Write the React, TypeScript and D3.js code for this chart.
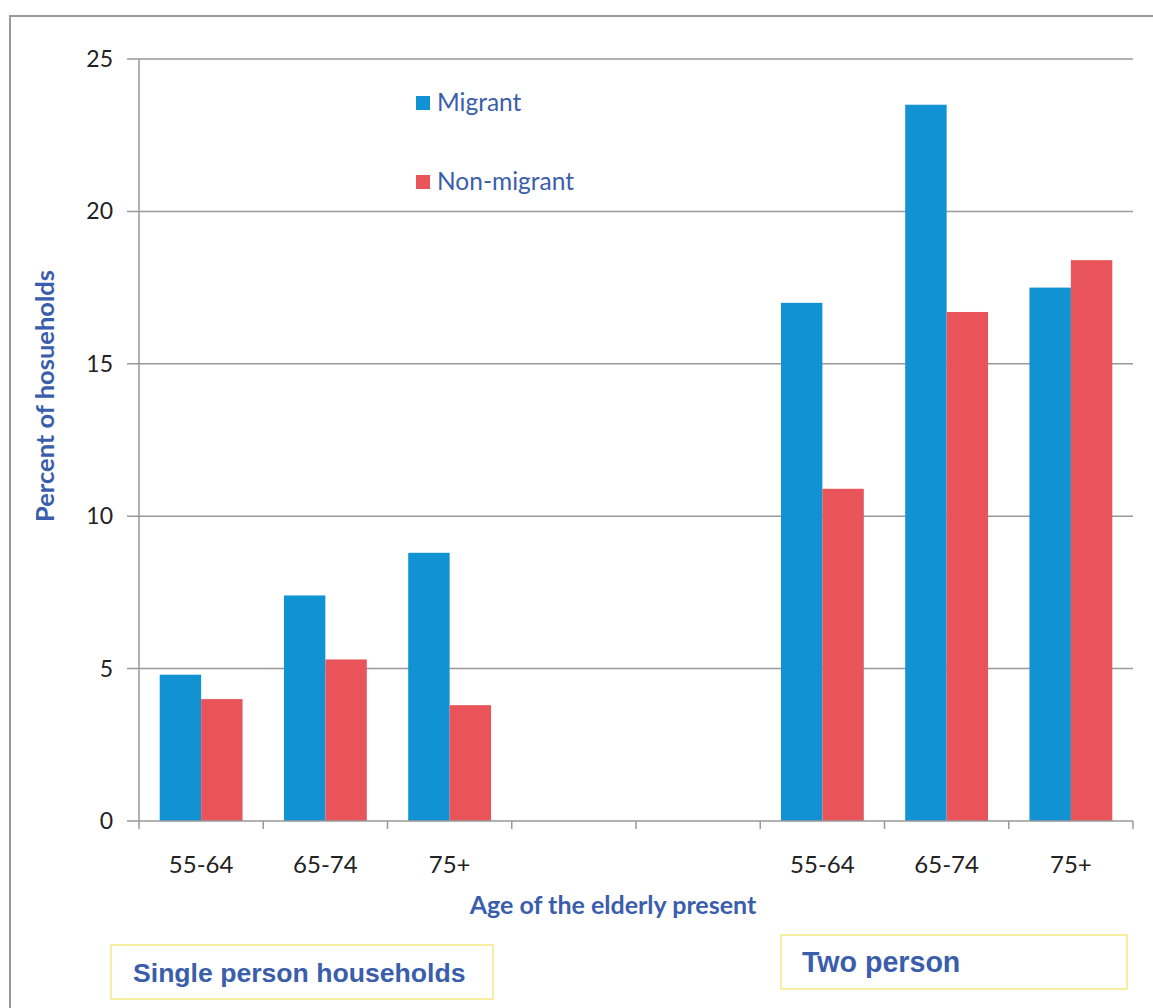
import React from "react";
import * as d3 from "d3";

const categories = ["55-64", "65-74", "75+", "", "", "55-64", "65-74", "75+"];
const migrant = [4.8, 7.4, 8.8, null, null, 17.0, 23.5, 17.5];
const nonMigrant = [4.0, 5.3, 3.8, null, null, 10.9, 16.7, 18.4];
const yTicks = [0, 5, 10, 15, 20, 25];
const seriesNames = ["Migrant", "Non-migrant"];
const seriesColors = ["#1192d2", "#e8545a"];

const W = 1153;
const H = 1008;
const left = 139;
const right = 1133;
const top = 59;
const bottom = 821;
const textBlue = "#3a5eab";
const calibri = "Lato, 'Open Sans', sans-serif";
const arial = "'Liberation Sans', Arial, sans-serif";

export default function App() {
  const keys = categories.map((_, i) => String(i));
  const x = d3.scaleBand<string>().domain(keys).range([left, right]).paddingInner(0).paddingOuter(0);
  const inner = d3.scaleBand<string>().domain(seriesNames).range([0, x.bandwidth()]).paddingInner(0).paddingOuter(0.5);
  const y = d3.scaleLinear().domain([0, 25]).range([bottom, top]);
  const series = [migrant, nonMigrant];
  const tickXs = keys.map((k) => x(k) as number).concat([right]);

  return (
    <svg width={W} height={H} style={{ position: "absolute", left: 0, top: 0, background: "#fff" }}>
      <rect x={10} y={16} width={1150} height={1100} fill="none" stroke="#999" strokeWidth={2} />
      {yTicks.map((t) => (
        <g key={t}>
          <line x1={127} x2={t === 0 ? left : right} y1={y(t)} y2={y(t)} stroke="#999" strokeWidth={1.5} />
          <text x={113} y={y(t) + 8} textAnchor="end" fontFamily={calibri} fontSize={23} fill="#222">{t}</text>
        </g>
      ))}
      <line x1={left} x2={left} y1={top} y2={bottom} stroke="#999" strokeWidth={1.5} />
      {series.map((vals, si) =>
        vals.map((v, i) =>
          v == null ? null : (
            <rect
              key={si + "-" + i}
              x={(x(keys[i]) as number) + (inner(seriesNames[si]) as number)}
              y={y(v)}
              width={inner.bandwidth()}
              height={y(0) - y(v)}
              fill={seriesColors[si]}
            />
          )
        )
      )}
      <line x1={left} x2={right} y1={bottom} y2={bottom} stroke="#999" strokeWidth={1.5} />
      {tickXs.map((tx, i) => (
        <line key={i} x1={tx} x2={tx} y1={bottom} y2={bottom + 8} stroke="#999" strokeWidth={1.5} />
      ))}
      {categories.map((c, i) => (
        <text key={"l" + i} x={(x(keys[i]) as number) + x.bandwidth() / 2} y={873} textAnchor="middle" fontFamily={calibri} fontSize={24} fill="#222">
          {c}
        </text>
      ))}
      {seriesNames.map((n, i) => (
        <g key={n}>
          <rect x={416} y={96 + i * 79} width={14} height={14} fill={seriesColors[i]} />
          <text x={437} y={111 + i * 79} fontFamily={calibri} fontSize={24.5} fill={textBlue}>{n}</text>
        </g>
      ))}
      <text x={613} y={914} textAnchor="middle" fontFamily={calibri} fontSize={25} fontWeight="bold" fill={textBlue}>
        Age of the elderly present
      </text>
      <text transform="translate(54,396) rotate(-90)" textAnchor="middle" fontFamily={calibri} fontSize={25.5} fontWeight="bold" fill={textBlue}>
        Percent of hosueholds
      </text>
      <rect x={111} y={945} width={382} height={54} fill="#fff" stroke="#f7ef9f" strokeWidth={2} />
      <text x={133} y={982} fontFamily={arial} fontSize={26.6} fontWeight="bold" fill={textBlue}>
        Single person households
      </text>
      <rect x={781} y={935} width={346} height={54} fill="#fff" stroke="#f7ef9f" strokeWidth={2} />
      <text x={802} y={972} fontFamily={arial} fontSize={28.6} fontWeight="bold" fill={textBlue}>
        Two person
      </text>
    </svg>
  );
}
